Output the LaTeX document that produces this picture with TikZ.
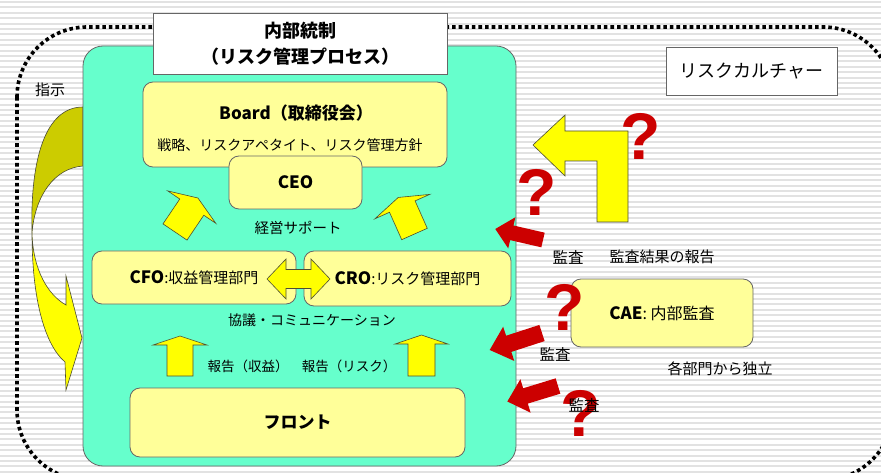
\documentclass[tikz,border=0pt]{standalone}
\usepackage{fontspec}
\setmainfont{Noto Sans CJK JP}
\newfontfamily\qfont{Liberation Sans}
\definecolor{mint}{HTML}{66FFCC}
\definecolor{boxyellow}{HTML}{FFFF99}
\definecolor{arrowyellow}{HTML}{FFFF00}
\definecolor{oliveback}{HTML}{CCCC00}
\definecolor{qred}{HTML}{CC0000}
\definecolor{edgegray}{HTML}{666666}
\definecolor{arrowedge}{HTML}{4D4D33}
\definecolor{stripegray}{HTML}{E2E2E2}
\newcommand\setfs[1]{\fontsize{#1}{#1}\selectfont}
% x y angle length shaftwidth headwidth headlength style
\newcommand\blockarrowshape[8]{%
  \draw[#8, shift={(#1,#2)}, rotate=#3]
    (0,{-#5/2}) -- ({#4-#7},{-#5/2}) -- ({#4-#7},{-#6/2}) -- (#4,0)
    -- ({#4-#7},{#6/2}) -- ({#4-#7},{#5/2}) -- (0,{#5/2}) -- cycle;}
\begin{document}
\begin{tikzpicture}[x=1pt,y=-1pt,
  ybox/.style={draw=edgegray, fill=boxyellow, rounded corners=10pt, inner sep=0pt, line width=0.8pt},
  wbox/.style={draw=edgegray, fill=white, inner sep=0pt, line width=0.8pt},
  lbl/.style={inner sep=0pt, text=black},
  yarrow/.style={draw=arrowedge, fill=arrowyellow, line width=0.6pt, line join=miter},
  rarrow/.style={draw=none, fill=qred},
  qmark/.style={inner sep=0pt, text=qred, font=\qfont\bfseries\setfs{66}},
  dotline/.style={line width=3.6pt, dash pattern=on 3.6pt off 3pt},
  stripe/.style={fill=stripegray}
]
\clip (0,0) rectangle (881,473);
\fill[white] (0,0) rectangle (881,473);
\foreach \k in {0,...,87} \fill[stripe] (0,{\k*5.4+1}) rectangle (881,{\k*5.4+3});

% outer dotted frame (risk culture)
\draw[dotline, rounded corners=70pt] (17,27) rectangle (893,480);

% curved instruction arrow on the left
\draw[draw=arrowedge, fill=oliveback, line width=0.6pt]
  (83,107) .. controls (45,107) and (30,160) .. (32,233)
  .. controls (35,195) and (55,168) .. (83,166) -- cycle;
\draw[yarrow]
  (32,233) .. controls (33,270) and (48,295) .. (66,305) -- (66,276) -- (82,338)
  -- (66,390) -- (65,362) .. controls (45,345) and (32,300) .. (32,233) -- cycle;

% internal control area
\node[draw=edgegray, fill=mint, rounded corners=20pt, minimum width=433pt, minimum height=420pt,
      inner sep=0pt, line width=0.8pt] (ctrl) at (299.5,256) {};

\node[wbox, minimum width=294pt, minimum height=61pt, align=center,
      font=\bfseries\fontsize{18}{26}\selectfont] (title) at (300,44)
      {内部統制\\（リスク管理プロセス）};

\node[ybox, minimum width=304pt, minimum height=85pt] (board) at (295,124.5) {};
\node[lbl, font=\bfseries\setfs{17}] (boardt) at (296,113) {Board（取締役会）};
\node[lbl, font=\setfs{14}] (boards) at (290,145) {戦略、リスクアペタイト、リスク管理方針};

\node[ybox, minimum width=133pt, minimum height=53pt, font=\bfseries\setfs{17}] (ceo) at (295.5,182.5) {CEO};

\node[lbl, font=\setfs{14.5}] (support) at (298,228) {経営サポート};

\node[ybox, minimum width=204pt, minimum height=53pt] (cfo) at (194,277.5)
  {{\bfseries\setfs{17}CFO}{\setfs{15}:収益管理部門}};
\node[ybox, minimum width=207pt, minimum height=55pt] (cro) at (407.5,278.5)
  {{\bfseries\setfs{17}CRO}{\setfs{15}:リスク管理部門}};

\node[lbl, font=\setfs{14}] (comm) at (312,320) {協議・コミュニケーション};
\node[lbl, font=\setfs{13.5}] (rep1) at (248,366) {報告（収益）};
\node[lbl, font=\setfs{13.5}] (rep2) at (349,366) {報告（リスク）};

\node[ybox, minimum width=335pt, minimum height=69pt, font=\bfseries\setfs{17}] (front) at (297.5,422.5) {フロント};

% yellow block arrows inside
\blockarrowshape{175}{232}{56}{41}{29}{58}{11}{yarrow}
\blockarrowshape{414.5}{234}{114}{40}{28}{60}{10}{yarrow}
\blockarrowshape{180}{376}{90}{40}{26}{54}{9}{yarrow}
\blockarrowshape{421.5}{376}{90}{41}{27}{53}{9}{yarrow}
\draw[yarrow] (267,279) -- (286,259) -- (286,269.5) -- (311,269.5) -- (311,259) -- (330,279)
  -- (311,299) -- (311,288.5) -- (286,288.5) -- (286,299) -- cycle;

% right side
\node[wbox, minimum width=171pt, minimum height=48pt, font=\setfs{18}] (culture) at (751.5,71) {リスクカルチャー};
\node[lbl, font=\setfs{15}] (instr) at (50,90) {指示};

\draw[yarrow] (533,145) -- (565,115) -- (565,131) -- (628,131) -- (628,222) -- (597,222)
  -- (597,161) -- (565,161) -- (565,176) -- cycle;

\node[ybox, minimum width=182pt, minimum height=68pt] (cae) at (662,313)
  {{\bfseries\setfs{17}CAE}{\setfs{16}:\ 内部監査}};

\node[lbl, font=\setfs{15}] (indep) at (720,369) {各部門から独立};
\node[lbl, font=\setfs{15}] (auditrep) at (662,257) {監査結果の報告};
\node[lbl, font=\setfs{15.5}] (audit1) at (568,257) {監査};
\node[lbl, font=\setfs{15.5}] (audit2) at (555,354) {監査};

% red audit arrows
\blockarrowshape{543}{240}{167}{49}{15}{32}{17}{rarrow}
\blockarrowshape{542}{333}{198}{55}{17}{36}{20}{rarrow}
\blockarrowshape{558}{386}{197}{53}{16}{35}{19}{rarrow}

% question marks
\node[qmark] (q1) at (641,136) {?};
\node[qmark] (q2) at (537,192) {?};
\node[qmark] (q3) at (565,307) {?};
\node[qmark] (q4) at (581,413) {?};

\node[lbl, font=\setfs{15.5}] (audit3) at (584,405) {監査};
\end{tikzpicture}
\end{document}
